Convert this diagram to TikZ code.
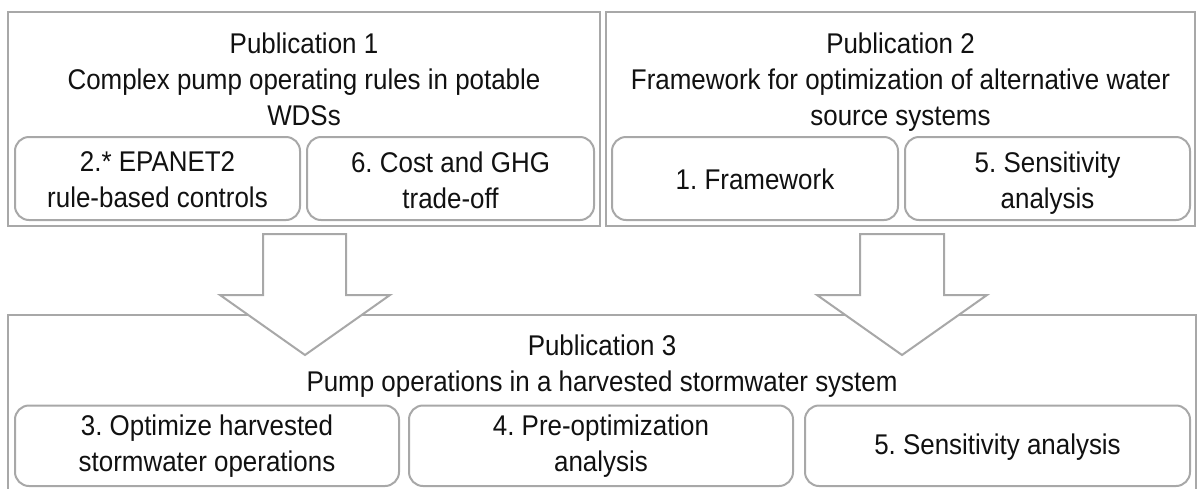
\documentclass[tikz,border=0pt]{standalone}
\usepackage{fontspec}
\setmainfont{Liberation Sans}[FakeStretch=0.91]
\frenchspacing
\definecolor{edge}{HTML}{A8A8A8}
\definecolor{ink}{HTML}{111111}
\tikzset{
  pubbox/.style={draw=edge, line width=2pt, rectangle, inner sep=0pt},
  subbox/.style={draw=edge, line width=2pt, rectangle, rounded corners=14pt, inner sep=0pt},
  label/.style={text=ink, align=center, inner sep=0pt, font=\fontsize{28.5}{36}\selectfont},
  blockarrow/.style={draw=edge, line width=2pt, fill=white, line join=miter}
}
\begin{document}
\begin{tikzpicture}[x=1pt,y=-1pt]
\useasboundingbox (0,0) rectangle (1200,488);
\fill[white] (0,0) rectangle (1200,488);
% publication 1
\node[pubbox, minimum width=592pt, minimum height=214pt] (p1) at (304,119) {};
\node[label] (p1t) at (304,79.5) {Publication 1\\Complex pump operating rules in potable\\WDSs};
\node[subbox, minimum width=285pt, minimum height=83pt] (s12) at (157.5,178.5) {};
\node[label] (s12t) at (157.5,180) {2.* EPANET2\\rule-based controls};
\node[subbox, minimum width=287pt, minimum height=83pt] (s16) at (450.5,178.5) {};
\node[label] (s16t) at (450.5,180) {6. Cost and GHG\\trade-off};
% publication 2
\node[pubbox, minimum width=589pt, minimum height=214pt] (p2) at (900.5,119) {};
\node[label] (p2t) at (900.5,82.5) {Publication 2\\Framework for optimization of alternative water\\source systems};
\node[subbox, minimum width=286pt, minimum height=83pt] (s21) at (755,178.5) {};
\node[label] (s21t) at (755,179) {1. Framework};
\node[subbox, minimum width=285pt, minimum height=83pt] (s25) at (1047.5,178.5) {};
\node[label] (s25t) at (1047.5,183) {5. Sensitivity\\analysis};
% publication 3 (bottom edge lies below the page)
\node[pubbox, minimum width=1188pt, minimum height=180pt] (p3) at (602,405) {};
\node[label] (p3t) at (602,366) {Publication 3\\Pump operations in a harvested stormwater system};
\node[subbox, minimum width=384pt, minimum height=80.5pt] (s33) at (207,445.75) {};
\node[label] (s33t) at (207,446) {3. Optimize harvested\\stormwater operations};
\node[subbox, minimum width=384pt, minimum height=80.5pt] (s34) at (601,445.75) {};
\node[label] (s34t) at (601,446) {4. Pre-optimization\\analysis};
\node[subbox, minimum width=385pt, minimum height=80.5pt] (s35) at (997.5,445.75) {};
\node[label] (s35t) at (997.5,447.5) {5. Sensitivity analysis};
% block arrows
\coordinate (a1) at (305,355);
\coordinate (a2) at (902,355);
\draw[blockarrow] (a1) ++(-85,-60) -- ++(43,0) -- ++(0,-61) -- ++(83,0) -- ++(0,61) -- ++(44,0) -- (a1) -- cycle;
\draw[blockarrow] (a2) ++(-85,-60) -- ++(43,0) -- ++(0,-61) -- ++(84,0) -- ++(0,61) -- ++(43,0) -- (a2) -- cycle;
\end{tikzpicture}
\end{document}
